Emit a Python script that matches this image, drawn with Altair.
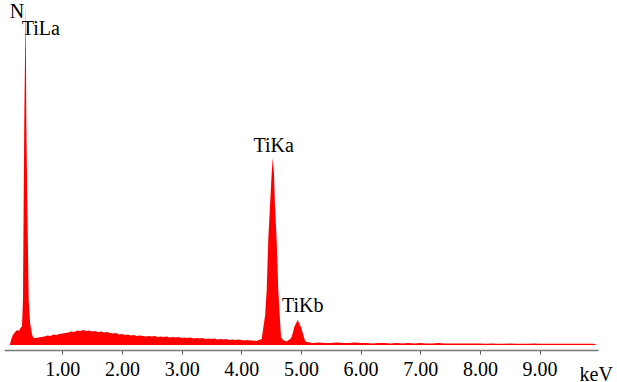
import altair as alt
import pandas as pd

# Energy (keV) and counts (arbitrary units)
energy = [
    0.12, 0.14, 0.17, 0.21, 0.24, 0.27, 0.31, 0.323, 0.340, 0.352, 0.362, 0.375, 0.386,
    0.396, 0.412, 0.436, 0.46, 0.479, 0.50, 0.52,
    0.55, 0.60, 0.65, 0.70, 0.75, 0.80, 0.85, 0.90, 0.95, 1.00, 1.05, 1.10, 1.15, 1.20,
    1.25, 1.30, 1.35, 1.40, 1.45, 1.50, 1.55, 1.60, 1.65, 1.70, 1.75, 1.80, 1.85, 1.90,
    1.95, 2.00, 2.05, 2.10, 2.15, 2.20, 2.25, 2.30, 2.35, 2.40, 2.45, 2.50, 2.55, 2.60,
    2.65, 2.70, 2.75, 2.80, 2.85, 2.90, 2.95, 3.00, 3.05, 3.10, 3.15, 3.20, 3.25, 3.30,
    3.35, 3.40, 3.45, 3.50, 3.55, 3.60, 3.65, 3.70, 3.75, 3.80, 3.85, 3.90, 3.95, 4.00,
    4.05, 4.10, 4.15, 4.20, 4.25, 4.30,
    4.342, 4.40, 4.426, 4.452, 4.481, 4.510, 4.527, 4.548, 4.565, 4.593, 4.620, 4.666,
    4.70, 4.76, 4.82, 4.845, 4.889, 4.945, 5.00, 5.07, 5.10, 5.15,
    5.20, 5.30, 5.40, 5.50, 5.60, 5.70, 5.80, 5.90, 6.00, 6.10, 6.20, 6.30, 6.40, 6.50,
    6.60, 6.70, 6.80, 6.90, 7.00, 7.10, 7.20, 7.30, 7.40, 7.50, 7.60, 7.70, 7.80, 7.90,
    8.00, 8.10, 8.20, 8.30, 8.40, 8.50, 8.60, 8.70, 8.80, 8.90, 9.00, 9.10, 9.20, 9.30,
    9.40, 9.50, 9.60, 9.70, 9.80, 9.90, 9.97,
]
counts = [
    0, 5, 10, 13, 15, 14, 18, 18, 45, 145, 225, 290, 340,
    225, 145, 45, 22, 15, 9, 7,
    7, 7.5, 8, 8.5, 9.5, 9, 10.5, 10, 11, 11.5, 12, 12.5, 13.5, 13,
    14.5, 14, 15, 14, 14.5, 13.5, 14, 13, 13.5, 12.5, 13, 12, 11.5, 12,
    10.5, 11, 10, 10.5, 9.5, 10, 9, 9.5, 9, 8.5, 9, 8.5, 9, 8,
    8.5, 8, 8.5, 7.5, 8, 7.5, 8, 7, 7.5, 7, 7.5, 6.5, 7, 6.5,
    7, 6, 6.5, 6, 6.5, 5.5, 6, 5.5, 6, 5, 5.5, 5, 5.5, 5,
    4.5, 5, 4.5, 4.5, 4, 5,
    6, 30, 55, 105, 139, 172, 187, 172, 139, 105, 55, 8,
    5, 3.5, 6, 8, 18, 25, 18, 4, 3, 2.5,
    2, 2.5, 2, 2, 2.5, 2, 2, 2.5, 2, 2, 1.5, 2, 2, 1.5,
    2, 1.5, 2, 1.5, 2, 1.5, 1.5, 2, 1.5, 1.5, 1.5, 1.5, 1.5, 1.5,
    1.5, 1.2, 1.5, 1.2, 1.2, 1.5, 1.2, 1.2, 1.2, 1.5, 1.2, 1.2, 1.2, 1.2,
    1.2, 1.2, 1.2, 1.2, 1.2, 1.2, 0,
]

peak_labels = ["N", "TiLa", "TiKa", "TiKb"]
peak_energy = [0.386, 0.386, 4.527, 4.945]
peak_counts = [340, 340, 187, 25]

spec = pd.DataFrame({"energy": energy, "counts": counts})
lab = pd.DataFrame({"label": peak_labels, "energy": peak_energy, "counts": peak_counts})

FONT = "Liberation Serif, Times New Roman, serif"
FS = 20

x = alt.X(
    "energy:Q",
    scale=alt.Scale(domain=[0.022, 9.98], nice=False, zero=False),
    axis=alt.Axis(
        values=[1, 2, 3, 4, 5, 6, 7, 8, 9],
        format=".2f",
        grid=False,
        offset=5,
        domainColor="#777777",
        domainWidth=1.5,
        tickColor="#555555",
        tickSize=4,
        labelFont=FONT,
        labelFontSize=FS,
        labelColor="black",
        labelPadding=5,
        title="keV",
        titleFont=FONT,
        titleFontSize=FS,
        titleFontWeight="normal",
        titleColor="black",
        titleAnchor="start",
        titleAlign="left",
        titleBaseline="alphabetic",
        titleX=575,
        titleY=30,
    ),
)
y = alt.Y("counts:Q", scale=alt.Scale(domain=[0, 340], nice=False), axis=None)

area = alt.Chart(spec).mark_area(color="#ff0000", interpolate="linear").encode(x=x, y=y)

def label(name, dx, dy, align):
    return (
        alt.Chart(lab[lab["label"] == name])
        .mark_text(font=FONT, fontSize=FS, color="black", align=align,
                   baseline="alphabetic", dx=dx, dy=dy)
        .encode(x=alt.X("energy:Q"), y=alt.Y("counts:Q"), text="label:N")
    )

labels = (
    label("N", -16, 13, "left")
    + label("TiLa", -4, 30, "left")
    + label("TiKa", 1, -6, "center")
    + label("TiKb", 5, -8, "center")
)

chart = (
    alt.layer(area, labels)
    .properties(width=594, height=340, padding={"left": 4, "top": 5, "right": 19, "bottom": 37},
                autosize=alt.AutoSizeParams(type="none"), background="white")
    .configure_view(strokeWidth=0, stroke="transparent")
)

chart.save("out.html", embed_options={"renderer": "svg", "actions": False})
